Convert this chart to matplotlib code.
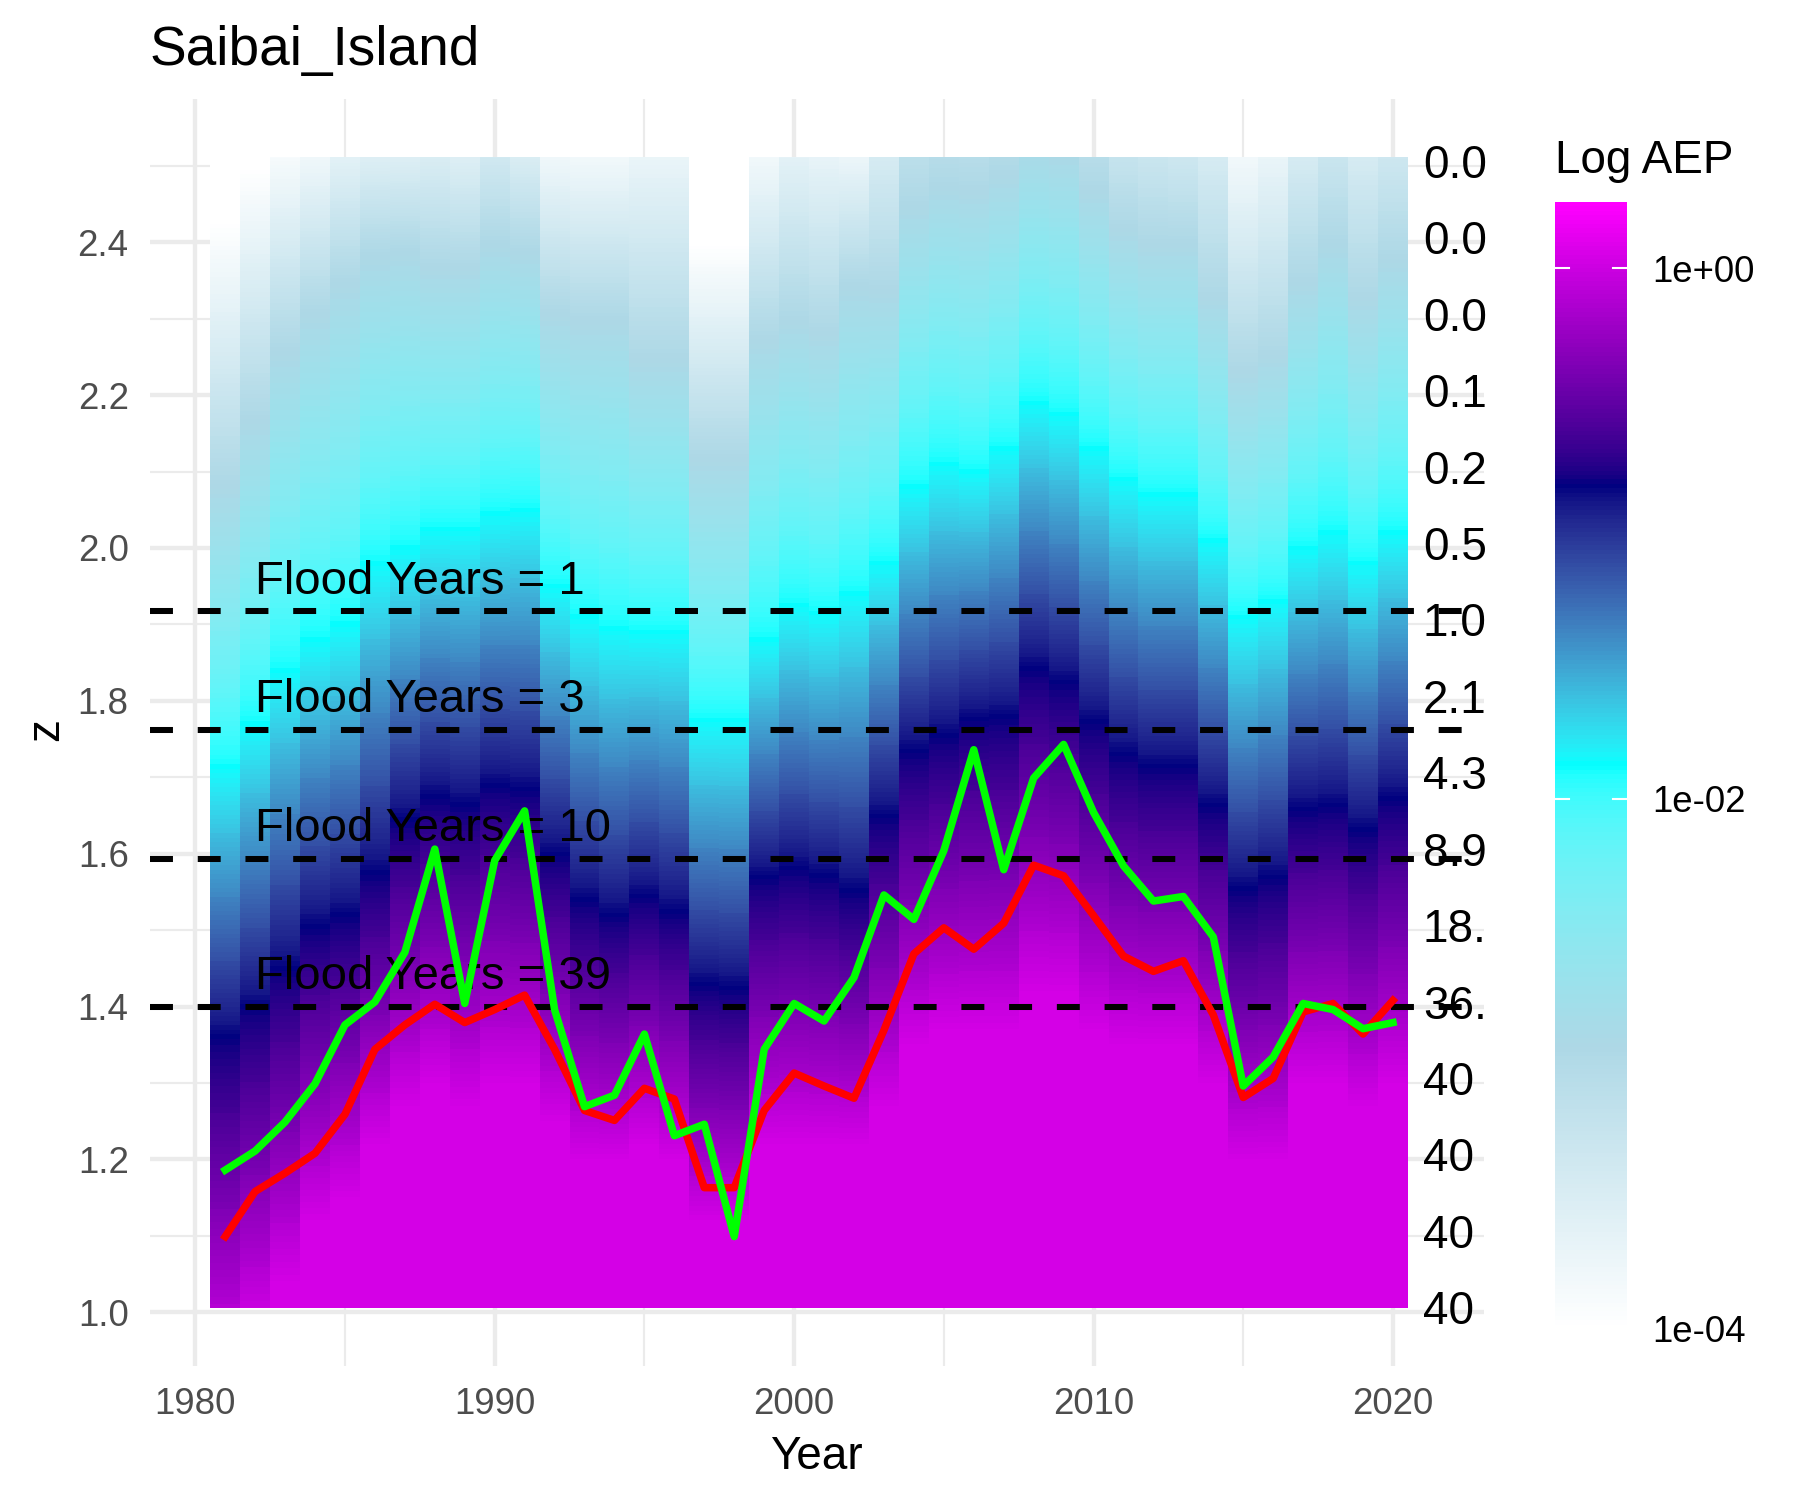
import numpy as np
import matplotlib
matplotlib.use("Agg")
import matplotlib.pyplot as plt
from matplotlib.colors import ListedColormap, Normalize, to_rgb
from matplotlib.cm import ScalarMappable
from matplotlib.patches import Rectangle

plt.rcParams['font.family'] = ['Liberation Sans', 'DejaVu Sans']

# ---------------- data ----------------
years = list(range(1981, 2021))

red_z = [1.099, 1.158, 1.182, 1.208, 1.259, 1.344, 1.376, 1.403, 1.379, 1.396,
         1.415, 1.344, 1.264, 1.251, 1.293, 1.279, 1.163, 1.163, 1.264, 1.313,
         1.296, 1.280, 1.369, 1.469, 1.503, 1.475, 1.509, 1.585, 1.571, 1.519,
         1.466, 1.446, 1.460, 1.389, 1.281, 1.306, 1.393, 1.404, 1.364, 1.408]

green_z = [1.186, 1.211, 1.249, 1.299, 1.376, 1.406, 1.471, 1.606, 1.404, 1.591,
           1.656, 1.396, 1.269, 1.284, 1.364, 1.231, 1.246, 1.099, 1.344, 1.404,
           1.381, 1.438, 1.546, 1.514, 1.604, 1.736, 1.579, 1.699, 1.743, 1.654,
           1.584, 1.538, 1.544, 1.491, 1.296, 1.334, 1.404, 1.396, 1.371, 1.379]

# z level where each year's column reaches the colour-scale nodes
z_sat = [0.93, 0.98, 1.04, 1.12, 1.15, 1.22, 1.27, 1.30, 1.27, 1.30,
         1.30, 1.25, 1.20, 1.20, 1.22, 1.20, 1.12, 1.12, 1.22, 1.22,
         1.22, 1.22, 1.27, 1.35, 1.37, 1.37, 1.37, 1.42, 1.42, 1.37,
         1.35, 1.35, 1.35, 1.30, 1.20, 1.20, 1.30, 1.30, 1.27, 1.30]
z_navy = [1.356, 1.395, 1.445, 1.500, 1.515, 1.570, 1.640, 1.670, 1.660, 1.685,
          1.680, 1.595, 1.535, 1.515, 1.540, 1.520, 1.425, 1.420, 1.565, 1.577,
          1.567, 1.547, 1.645, 1.730, 1.750, 1.772, 1.775, 1.838, 1.820, 1.768,
          1.726, 1.710, 1.710, 1.659, 1.550, 1.565, 1.654, 1.659, 1.627, 1.668]
z_cyan = [1.714, 1.770, 1.840, 1.880, 1.900, 1.980, 2.000, 2.025, 2.025, 2.045,
          2.050, 1.950, 1.910, 1.895, 1.890, 1.890, 1.775, 1.775, 1.880, 1.925,
          1.915, 1.940, 1.980, 2.080, 2.110, 2.100, 2.130, 2.190, 2.175, 2.130,
          2.090, 2.070, 2.070, 2.010, 1.910, 1.930, 2.000, 2.020, 1.980, 2.020]
z_lightblue = [2.085, 2.170, 2.260, 2.310, 2.350, 2.385, 2.390, 2.370, 2.370, 2.400,
               2.390, 2.310, 2.300, 2.300, 2.250, 2.250, 2.120, 2.120, 2.275, 2.300,
               2.285, 2.345, 2.340, 2.450, 2.475, 2.470, 2.490, 2.530, 2.520, 2.470,
               2.420, 2.400, 2.400, 2.330, 2.234, 2.254, 2.350, 2.400, 2.330, 2.380]
z_white = [2.430, 2.500, 2.544, 2.563, 2.600, 2.603, 2.600, 2.640, 2.614, 2.665,
           2.620, 2.563, 2.557, 2.557, 2.610, 2.610, 2.400, 2.400, 2.563, 2.625,
           2.610, 2.567, 2.697, 2.800, 2.825, 2.820, 2.850, 2.880, 2.870, 2.820,
           2.740, 2.730, 2.690, 2.710, 2.570, 2.610, 2.686, 2.730, 2.710, 2.720]

flood_z = [1.917, 1.762, 1.593, 1.400]
flood_n = [1, 3, 10, 39]

side_z = [1.0, 1.1, 1.2, 1.3, 1.4, 1.5, 1.6, 1.7, 1.8, 1.9, 2.0, 2.1, 2.2, 2.3, 2.4, 2.5]
side_labels = ["40", "40", "40", "40", "36.", "18.", "8.9", "4.3", "2.1", "1.0",
               "0.5", "0.2", "0.1", "0.0", "0.0", "0.0"]

# ---------------- colour scale (log10 AEP), ramp in CIELAB like ggplot ----------------
log_min, log_max = -4.0, 0.25
node_cols = ["white", "lightblue", "cyan", "navy", "magenta"]

WHITE_XYZ = np.array([0.95047, 1.0, 1.08883])
M_RGB2XYZ = np.array([[0.4124, 0.3576, 0.1805],
                      [0.2126, 0.7152, 0.0722],
                      [0.0193, 0.1192, 0.9505]])


def rgb_to_lab(rgb):
    c = np.asarray(rgb, float)
    c = np.where(c <= 0.04045, c / 12.92, ((c + 0.055) / 1.055) ** 2.4)
    t = (M_RGB2XYZ @ c) / WHITE_XYZ
    d = 6 / 29
    f = np.where(t > d ** 3, np.cbrt(t), t / (3 * d * d) + 4 / 29)
    return np.array([116 * f[1] - 16, 500 * (f[0] - f[1]), 200 * (f[1] - f[2])])


def lab_to_rgb(lab):
    L, a, b = lab
    fy = (L + 16) / 116
    f = np.array([fy + a / 500, fy, fy - b / 200])
    d = 6 / 29
    t = np.where(f > d, f ** 3, 3 * d * d * (f - 4 / 29)) * WHITE_XYZ
    c = np.linalg.solve(M_RGB2XYZ, t)
    c = np.clip(c, 0, 1)
    c = np.where(c <= 0.0031308, 12.92 * c, 1.055 * c ** (1 / 2.4) - 0.055)
    return np.clip(c, 0, 1)


node_lab = np.array([rgb_to_lab(to_rgb(c)) for c in node_cols])
node_pos = np.linspace(0, 1, len(node_cols))
ramp = []
for p in np.linspace(0, 1, 256):
    lab = [np.interp(p, node_pos, node_lab[:, k]) for k in range(3)]
    ramp.append(lab_to_rgb(lab))
cmap = ListedColormap(ramp)
norm = Normalize(log_min, log_max)

step = (log_max - log_min) / 4
c_white, c_lb, c_cyan, c_navy = log_min, log_min + step, log_min + 2 * step, log_min + 3 * step
c_sat = c_navy + 0.8 * step
levels = np.linspace(log_min, log_max, 240)

fig = plt.figure(figsize=(12, 10), dpi=150)
ax = fig.add_axes([0.0831, 0.0895, 0.7411, 0.8443])
ax.set_xlim(1978.475, 2023.025)
ax.set_ylim(0.930, 2.587)
for s in ax.spines.values():
    s.set_visible(False)

ax.set_xticks([1980, 1990, 2000, 2010, 2020])
ax.set_xticks([1985, 1995, 2005, 2015], minor=True)
ax.set_yticks([1.0, 1.2, 1.4, 1.6, 1.8, 2.0, 2.2, 2.4])
ax.set_yticklabels(["1.0", "1.2", "1.4", "1.6", "1.8", "2.0", "2.2", "2.4"])
ax.set_yticks([1.1, 1.3, 1.5, 1.7, 1.9, 2.1, 2.3, 2.5], minor=True)
ax.grid(which='major', color='#EBEBEB', lw=2.1)
ax.grid(which='minor', color='#EBEBEB', lw=1.05)
ax.set_axisbelow(True)
ax.tick_params(which='both', length=0, labelsize=17.6, labelcolor='#4D4D4D')
ax.tick_params(axis='x', pad=10)
ax.tick_params(axis='y', pad=10)

# heat map columns, one per year
tile_clip = Rectangle((1980.5, 1.005), 40, 1.507, transform=ax.transData)
for i, yr in enumerate(years):
    zs = [0.5, z_sat[i], z_navy[i], z_cyan[i], z_lightblue[i], z_white[i], 3.5]
    cs = [c_sat, c_sat, c_navy, c_cyan, c_lb, c_white, c_white]
    X = np.array([[yr - 0.5, yr + 0.5]] * len(zs))
    Y = np.column_stack([zs, zs])
    C = np.column_stack([cs, cs])
    cf = ax.contourf(X, Y, C, levels=levels, cmap=cmap, norm=norm, extend='both',
                     antialiased=False, zorder=1)
    cf.set_clip_path(tile_clip)

for z, n in zip(flood_z, flood_n):
    ax.axhline(z, color='black', lw=2.9, ls=(0, (3.8, 4.1)), zorder=2)
    ax.text(1982, z + 0.023, f"Flood Years = {n}", fontsize=22.7, ha='left',
            va='baseline', zorder=3)

for z, lab in zip(side_z, side_labels):
    ax.text(2021, z, lab, fontsize=22, ha='left', va='center', zorder=3)

ax.plot(years, red_z, color='red', lw=3.6, zorder=4)
ax.plot(years, green_z, color='#00FF00', lw=3.6, zorder=4)

fig.text(0.0831, 0.9567, "Saibai_Island", fontsize=26.4, va='baseline')
fig.text(0.4536, 0.0207, "Year", fontsize=22, ha='center', va='baseline')
fig.text(0.0256, 0.5133, "z", fontsize=22, rotation=90, ha='center', va='center')

# colour bar
cax = fig.add_axes([0.8639, 0.114, 0.04, 0.7513])
cb = fig.colorbar(ScalarMappable(norm=norm, cmap=cmap), cax=cax)
cb.outline.set_visible(False)
cb.set_ticks([0, -2, -4])
cb.set_ticklabels(["1e+00", "1e-02", "1e-04"])
cax.tick_params(length=0, labelsize=17.6, labelcolor='black', pad=12)
for v in [0, -2]:
    cax.plot([0, 0.2], [v, v], color='white', lw=1.0)
    cax.plot([0.8, 1], [v, v], color='white', lw=1.0)
fig.text(0.8639, 0.8927, "Log AEP", fontsize=22, ha='left', va='center')

fig.savefig("out.png", dpi=150)
